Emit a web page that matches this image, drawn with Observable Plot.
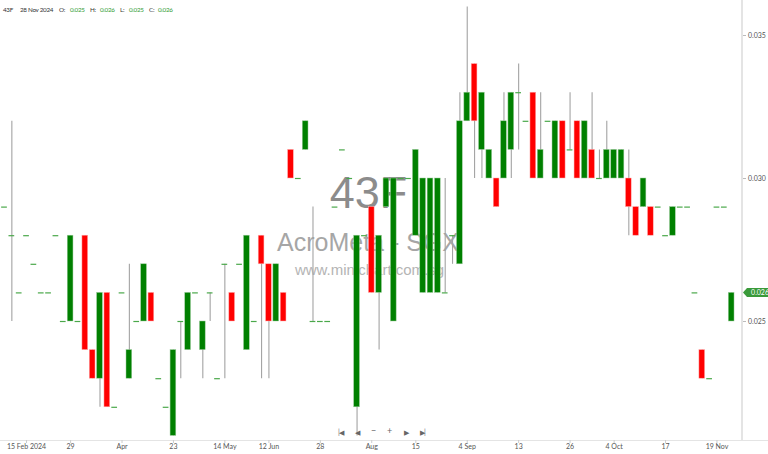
<!DOCTYPE html>
<html><head><meta charset="utf-8">
<script src="https://cdn.jsdelivr.net/npm/d3@7"></script>
<script src="https://cdn.jsdelivr.net/npm/@observablehq/plot@0.6"></script>
<style>
body{margin:0;background:#fff;font-family:Lato,"Open Sans",sans-serif}
#wrap{position:relative;width:768px;height:454px;overflow:hidden}
.hd{position:absolute;top:5px;font-size:6.3px;line-height:10px;color:#333;white-space:nowrap;letter-spacing:-0.3px;font-family:Lato,sans-serif}
.hd.v{color:#2e9a2e}
.nav{position:absolute;top:427px;font-size:7px;line-height:10px;color:#666;white-space:nowrap;letter-spacing:-1px}
.nav.big{font-size:9px;top:426px;letter-spacing:0}
.ln{position:absolute;background:#e4e4e4}
#tag{position:absolute;left:743px;width:26px;height:9px;background:#3a9a3a;color:#fff;font-size:7px;line-height:9px;text-align:right;
 clip-path:polygon(0 50%,4px 0,100% 0,100% 100%,4px 100%);box-sizing:border-box;padding-left:5px}
</style></head>
<body><div id="wrap"></div>
<script>
const symbol = "43F";
const company = "AcroMeta - SGX";
const site = "www.minichart.com.sg";
const lastDate = "28 Nov 2024";

const open = [0.029,0.028,0.026,0.028,0.027,0.026,0.026,0.028,0.025,0.025,
0.025,0.028,0.024,0.023,0.026,0.022,0.026,0.023,0.025,0.025,
0.026,0.023,0.022,0.021,0.025,0.024,0.026,0.024,0.026,0.023,
0.027,0.026,0.027,0.024,0.025,0.028,0.027,0.025,0.026,0.031,
0.030,0.031,0.025,0.025,0.025,0.029,0.031,0.030,0.022,0.028,
0.029,0.026,0.029,0.025,0.030,0.030,0.028,0.026,0.026,0.026,
0.026,0.028,0.027,0.032,0.034,0.031,0.030,0.030,0.030,0.031,
0.033,0.032,0.033,0.030,0.032,0.030,0.032,0.031,0.032,0.030,
0.031,0.030,0.030,0.030,0.030,0.030,0.029,0.029,0.029,0.029,
0.028,0.028,0.029,0.029,0.026,0.024,0.023,0.029,0.029,0.025];
const high = [0.029,0.032,0.026,0.028,0.027,0.026,0.026,0.028,0.025,0.028,
0.025,0.028,0.024,0.026,0.026,0.022,0.026,0.027,0.025,0.027,
0.026,0.023,0.022,0.024,0.025,0.026,0.026,0.025,0.026,0.023,
0.027,0.026,0.027,0.028,0.025,0.028,0.027,0.027,0.026,0.031,
0.030,0.032,0.029,0.025,0.025,0.029,0.031,0.030,0.028,0.028,
0.029,0.028,0.030,0.030,0.030,0.030,0.031,0.030,0.030,0.030,
0.030,0.028,0.033,0.036,0.034,0.033,0.031,0.030,0.033,0.033,
0.034,0.032,0.033,0.033,0.032,0.032,0.032,0.033,0.032,0.032,
0.033,0.031,0.032,0.031,0.031,0.031,0.029,0.030,0.029,0.029,
0.028,0.029,0.029,0.029,0.026,0.024,0.023,0.029,0.029,0.026];
const low = [0.029,0.025,0.026,0.028,0.027,0.026,0.026,0.028,0.025,0.025,
0.025,0.024,0.023,0.022,0.022,0.022,0.026,0.023,0.025,0.025,
0.025,0.023,0.022,0.021,0.023,0.024,0.026,0.023,0.025,0.023,
0.023,0.025,0.027,0.024,0.025,0.023,0.023,0.025,0.025,0.030,
0.030,0.031,0.025,0.025,0.025,0.029,0.031,0.030,0.021,0.028,
0.026,0.024,0.029,0.025,0.030,0.030,0.028,0.026,0.026,0.026,
0.026,0.027,0.027,0.032,0.030,0.030,0.030,0.029,0.030,0.030,
0.031,0.032,0.030,0.030,0.032,0.030,0.030,0.031,0.030,0.030,
0.030,0.030,0.030,0.030,0.030,0.028,0.028,0.029,0.028,0.029,
0.028,0.028,0.029,0.029,0.026,0.023,0.023,0.029,0.029,0.025];
const close = [0.029,0.028,0.026,0.028,0.027,0.026,0.026,0.028,0.025,0.028,
0.025,0.024,0.023,0.026,0.022,0.022,0.026,0.024,0.025,0.027,
0.025,0.023,0.022,0.024,0.025,0.026,0.026,0.025,0.026,0.023,
0.027,0.025,0.027,0.028,0.025,0.027,0.025,0.027,0.025,0.030,
0.030,0.032,0.025,0.025,0.025,0.029,0.031,0.030,0.028,0.028,
0.026,0.028,0.030,0.030,0.030,0.030,0.031,0.030,0.030,0.030,
0.026,0.028,0.032,0.033,0.032,0.033,0.031,0.029,0.032,0.033,
0.033,0.032,0.030,0.031,0.032,0.032,0.030,0.031,0.030,0.032,
0.030,0.030,0.031,0.031,0.031,0.029,0.028,0.030,0.028,0.029,
0.028,0.029,0.029,0.029,0.026,0.023,0.023,0.029,0.029,0.026];

const tickIndex = [3,9,16,23,30,36,43,50,56,63,70,77,83,90,97];
const tickLabels = ["15 Feb 2024","29","Apr","23","14 May","12 Jun","28","Aug","15","4 Sep","13","26","4 Oct","17","19 Nov"];
const yTicks = [0.025,0.030,0.035];
const headerLabels = ["O:","H:","L:","C:"];
const navIcons = ["|◀","◀","−","+","▶","▶|"];

const bars = open.map((o,i)=>({i,o,h:high[i],l:low[i],c:close[i]}));
const up = bars.filter(d=>d.c>d.o), down = bars.filter(d=>d.c<d.o), flat = bars.filter(d=>d.c===d.o);
const labMap = new Map(tickIndex.map((t,k)=>[t,tickLabels[k]]));
const fmt = d3.format(".3f");
const hw = 0.39;

const wrap = document.getElementById("wrap");
const plot = Plot.plot({
  width:768, height:454, marginLeft:0, marginRight:26, marginTop:0, marginBottom:14,
  x:{type:"linear", domain:[-0.5446,100.477], label:null},
  y:{domain:[0.020839,0.036224], label:null},
  style:{fontFamily:"Lato, 'Open Sans', sans-serif", fontSize:"7px", background:"transparent", overflow:"visible"},
  marks:[
    Plot.text([symbol],{text:d=>d, frameAnchor:"middle", dx:-3, dy:-27, fontSize:45, fill:"#8c8c8c", fontFamily:"Liberation Sans"}),
    Plot.text([company],{text:d=>d, frameAnchor:"middle", dx:-3.5, dy:22, fontSize:25, fill:"#a6a6a6", fontFamily:"Liberation Sans"}),
    Plot.text([site],{text:d=>d, frameAnchor:"middle", dx:-2, dy:49.5, fontSize:15, fill:"#b4b4b4", fontFamily:"Liberation Sans"}),
    Plot.ruleX(bars.filter(d=>d.h>d.l),{x:"i", y1:"l", y2:"h", stroke:"#a3a3a3", strokeWidth:1.1}),
    Plot.rect(up,{x1:d=>d.i-hw, x2:d=>d.i+hw, y1:"o", y2:"c", fill:"#008000", stroke:"#9ccc9c", strokeWidth:0.5}),
    Plot.rect(down,{x1:d=>d.i-hw, x2:d=>d.i+hw, y1:"o", y2:"c", fill:"#ff0000", stroke:"#ffb0b0", strokeWidth:0.5}),
    Plot.ruleY(flat,{y:"c", x1:d=>d.i-hw, x2:d=>d.i+hw, stroke:"#4aa84a", strokeWidth:1.2}),
    Plot.axisX(tickIndex,{anchor:"bottom", label:null, tickFormat:d=>labMap.get(d), tickSize:3, tickPadding:1, fill:"#555", stroke:"#ccc"}),
    Plot.axisY(yTicks,{anchor:"right", label:null, tickFormat:fmt, tickSize:3, tickPadding:2.5, fill:"#555", stroke:"#bbb"})
  ]
});
plot.style.position="absolute"; plot.style.left="0"; plot.style.top="0";

// frame lines
const hl = document.createElement("div"); hl.className="ln";
Object.assign(hl.style,{left:"0px",top:"439.5px",width:"768px",height:"1.5px"});
const vl = document.createElement("div"); vl.className="ln";
Object.assign(vl.style,{left:"741px",top:"0px",width:"1.5px",height:"440px"});
wrap.appendChild(hl); wrap.appendChild(vl);
wrap.appendChild(plot);

// header
const last = bars[bars.length-1];
const hvals = [last.o,last.h,last.l,last.c].map(fmt);
const items = [[symbol,3,false],[lastDate,20,false]];
const lx=[59,90,120,149], vx=[70,100,129,158];
headerLabels.forEach((l,k)=>{items.push([l,lx[k],false]);items.push([hvals[k],vx[k],true]);});
items.forEach(([t,x,v])=>{const s=document.createElement("div");s.className="hd"+(v?" v":"");s.textContent=t;s.style.left=x+"px";wrap.appendChild(s);});

// nav icons
const nx=[338,355,371,387,404,420];
navIcons.forEach((t,k)=>{const s=document.createElement("div");s.className="nav"+((t==="−"||t==="+")?" big":"");s.textContent=t;s.style.left=nx[k]+"px";wrap.appendChild(s);});

// last price tag
const yy = plot.scale("y").apply(last.c);
const tag = document.createElement("div"); tag.id="tag"; tag.textContent=fmt(last.c);
tag.style.top=(yy-4.5)+"px"; wrap.appendChild(tag);
</script></body></html>
